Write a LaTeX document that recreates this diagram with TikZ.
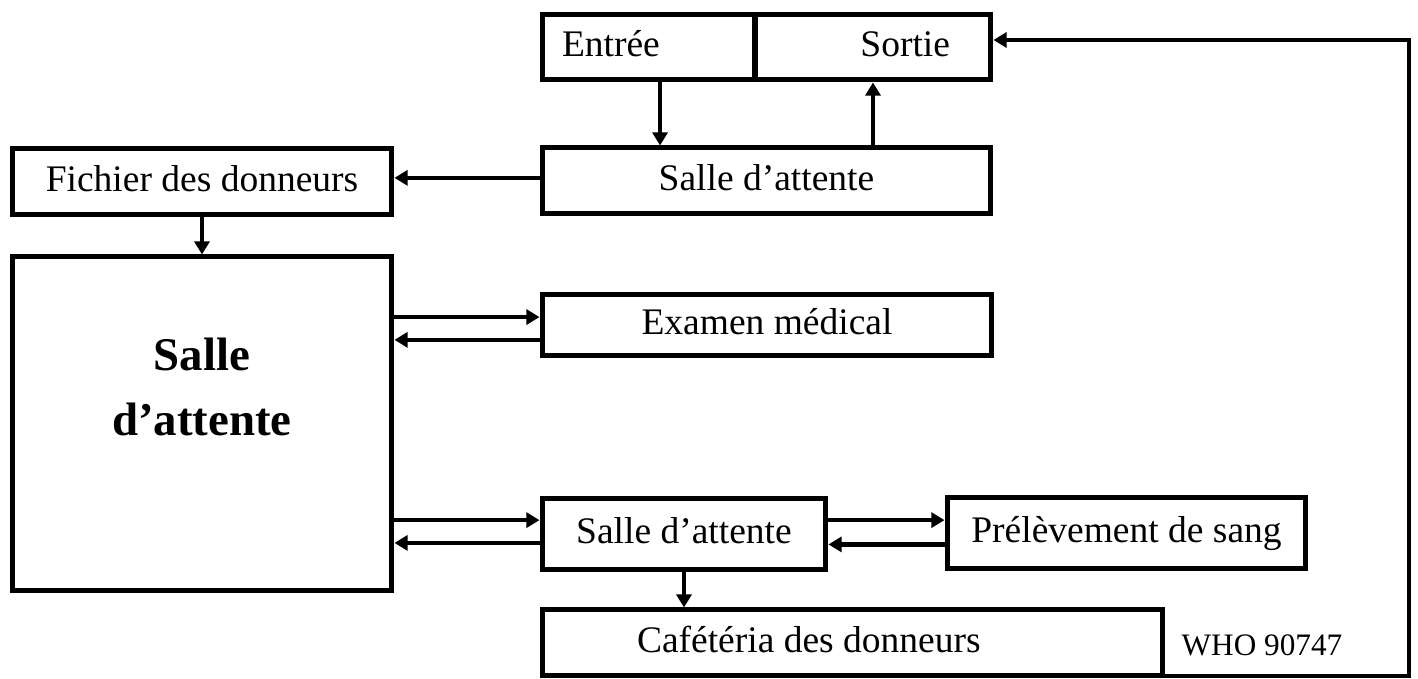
\documentclass[tikz,border=0pt]{standalone}
\usepackage{fontspec}
\setmainfont{Liberation Serif}
\usepackage{tikz}
\usetikzlibrary{arrows.meta}

\begin{document}
\begin{tikzpicture}[
  x=0.32pt, y=-0.32pt,
  font=\fontsize{12}{14}\selectfont,
  box/.style={draw, line width=1.6pt, inner sep=0pt, align=center,
              text height=8.6pt, text depth=2.6pt},
  arr/.style={line width=1.5pt, -{Triangle[length=4.2pt,width=4.8pt]}},
]
\useasboundingbox (0,0) rectangle (1418,679);

% entrance and exit
\node[box, minimum width=68.16pt, minimum height=20.8pt, inner xsep=6.4pt,
      text width=55.36pt, align=flush left] (entree) at (648.5,47.5) {Entrée};
\node[box, minimum width=75.52pt, minimum height=20.8pt, inner xsep=13.1pt,
      text width=49.32pt, align=flush right] (sortie) at (873,47.5) {Sortie};

\node[box, minimum width=143.68pt, minimum height=21.12pt] (attente1) at (766.5,181) {Salle d’attente};
\node[box, minimum width=121.6pt, minimum height=21.12pt] (fichier) at (202,182) {Fichier des donneurs};

% main waiting room
\node[box, minimum width=121.6pt, minimum height=106.88pt] (salle) at (202,424) {};
\node[font=\fontsize{15}{20.8}\selectfont\bfseries, align=center] (salletxt) at (202,387)
  {Salle\\d’attente};

\node[box, minimum width=144pt, minimum height=19.52pt] (examen) at (767,325.5) {Examen médical};
\node[box, minimum width=90.88pt, minimum height=22.72pt] (attente2) at (684,534.5) {Salle d’attente};
\node[box, minimum width=114.88pt, minimum height=22.72pt] (prelev) at (1126.5,533.5) {Prélèvement de sang};
\node[box, minimum width=198.72pt, minimum height=21.12pt, inner xsep=30.4pt,
      text width=137.92pt, align=flush left] (cafe) at (852.5,643) {Cafétéria des donneurs};

\node[font=\fontsize{10}{12}\selectfont] (who) at (1262,645) {WHO 90747};

\draw[arr] ([xshift=3.7pt]entree.south) -- ([xshift=3.7pt]entree.south |- attente1.north);
\draw[arr] (sortie.south |- attente1.north) -- (sortie.south);
\draw[arr] ([yshift=1pt]attente1.west) -- ([yshift=1pt]attente1.west -| fichier.east);
\draw[arr] (fichier.south) -- (salle.north);

\draw[arr] ([yshift=2.7pt]examen.west -| salle.east) -- ([yshift=2.7pt]examen.west);
\draw[arr] ([yshift=-4.6pt]examen.west) -- ([yshift=-4.6pt]examen.west -| salle.east);

\draw[arr] ([yshift=4.6pt]attente2.west -| salle.east) -- ([yshift=4.6pt]attente2.west);
\draw[arr] ([yshift=-2.7pt]attente2.west) -- ([yshift=-2.7pt]attente2.west -| salle.east);
\draw[arr] ([yshift=4.6pt]attente2.east) -- ([yshift=4.6pt]attente2.east -| prelev.west);
\draw[arr] ([yshift=-3.5pt]prelev.west) -- ([yshift=-3.5pt]prelev.west -| attente2.east);
\draw[arr] (attente2.south) -- (attente2.south |- cafe.north);

% return to the exit
\coordinate (back) at (1409,40);
\draw[arr] ([yshift=0.8pt]cafe.south east) -| (back) -- (back -| sortie.east);

\end{tikzpicture}
\end{document}
